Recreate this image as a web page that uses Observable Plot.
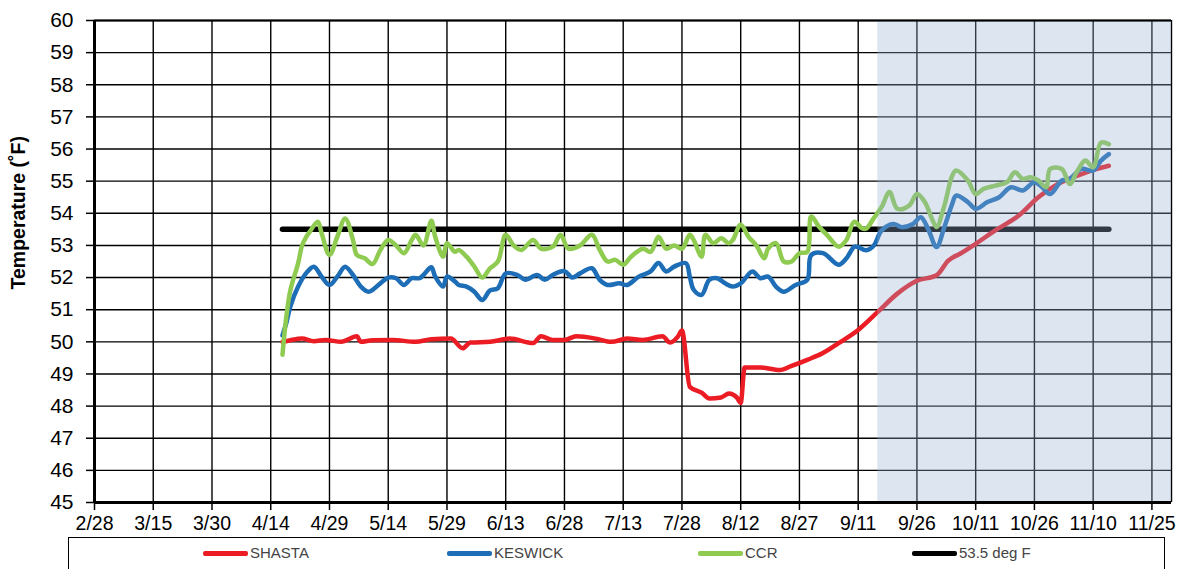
<!DOCTYPE html>
<html><head><meta charset="utf-8">
<script src="https://cdn.jsdelivr.net/npm/d3@7"></script>
<script src="https://cdn.jsdelivr.net/npm/@observablehq/plot@0.6"></script>
<style>
body{margin:0;background:#fff;font-family:"Liberation Sans",Arial,sans-serif;}
#wrap{position:relative;width:1182px;height:569px;overflow:hidden;background:#fff;}
#chart{position:absolute;left:0;top:0;}
#legendBox{position:absolute;left:68px;top:537px;width:1097px;height:45px;border:1.5px solid #000;box-sizing:border-box;background:#fff;}
.sw{position:absolute;height:5px;border-radius:2px;}
.lt{position:absolute;font-size:15px;line-height:18px;color:#444;white-space:nowrap;}
</style></head>
<body><div id="wrap"><div id="chart"></div><div id="legendBox"></div></div>
<script>
const YEAR = 2021;
const parse = s => { const [m, d] = s.split("/").map(Number); return new Date(Date.UTC(YEAR, m - 1, d)); };

const tickLabels = ["2/28","3/15","3/30","4/14","4/29","5/14","5/29","6/13","6/28","7/13","7/28","8/12","8/27","9/11","9/26","10/11","10/26","11/10","11/25"];
const yTicks = [45,46,47,48,49,50,51,52,53,54,55,56,57,58,59,60];
const xStart = "2/28", xEnd = "11/30";
const shadeStart = "9/16";

const seriesNames = ["SHASTA","KESWICK","CCR","53.5 deg F"];
const seriesColors = ["#ec1c24","#1d6db7","#8fcb50","#000000"];

const thresholdDates = ["4/17","11/14"];
const thresholdTemps = [53.5, 53.5];

const shastaDates = ["4/17","4/19","4/22","4/25","4/28","5/2","5/6","5/7","5/10","5/15",
  "5/21","5/25","5/30","6/2","6/4","6/9","6/14","6/20","6/22","6/25",
  "6/28","7/1","7/6","7/10","7/14","7/18","7/23","7/25","7/27","7/28",
  "7/30","8/2","8/4","8/7","8/9","8/11","8/12","8/13","8/17","8/22",
  "8/25","8/29","9/2","9/6","9/11","9/16","9/21","9/26","10/1","10/4",
  "10/7","10/11","10/16","10/22","10/27","11/1","11/6","11/11","11/14"];
const shastaTemps = [50.0,50.05,50.1,50.02,50.06,50.0,50.17,50.0,50.05,50.06,
  50.0,50.08,50.1,49.8,49.98,50.0,50.1,49.96,50.17,50.06,
  50.06,50.17,50.1,50.0,50.1,50.06,50.17,49.98,50.17,50.35,
  48.6,48.42,48.24,48.27,48.39,48.27,48.1,49.2,49.2,49.12,
  49.25,49.44,49.65,49.96,50.37,50.93,51.5,51.9,52.07,52.53,
  52.74,53.05,53.47,53.93,54.5,54.91,55.17,55.38,55.48];

const keswickDates = ["4/17","4/18","4/19","4/21","4/23","4/25","4/27","4/29","5/1","5/3",
  "5/5","5/7","5/9","5/12","5/14","5/16","5/18","5/20","5/22","5/23",
  "5/25","5/26","5/28","5/29","5/31","6/1","6/3","6/5","6/7","6/9",
  "6/11","6/13","6/16","6/18","6/21","6/23","6/25","6/28","6/30","7/2",
  "7/5","7/7","7/9","7/12","7/14","7/17","7/20","7/22","7/24","7/26",
  "7/29","7/30","7/31","8/2","8/4","8/6","8/8","8/10","8/12","8/15",
  "8/17","8/19","8/21","8/23","8/26","8/29","8/30","9/2","9/6","9/8",
  "9/10","9/11","9/13","9/15","9/17","9/20","9/22","9/25","9/27","9/29",
  "10/1","10/3","10/5","10/6","10/9","10/11","10/14","10/17","10/20","10/23",
  "10/26","10/28","10/30","11/2","11/4","11/7","11/10","11/12","11/14"];
const keswickTemps = [50.2,50.6,51.1,51.72,52.13,52.34,52.03,51.77,52.03,52.34,
  52.08,51.72,51.56,51.82,52.0,51.98,51.77,51.98,51.98,52.08,
  52.32,52.03,51.72,52.03,51.88,51.77,51.72,51.56,51.3,51.6,
  51.67,52.13,52.08,51.93,52.08,51.93,52.08,52.2,52.0,52.13,
  52.29,51.93,51.77,51.82,51.77,52.03,52.19,52.45,52.19,52.34,
  52.45,52.03,51.62,51.46,51.93,51.98,51.82,51.72,51.82,52.19,
  51.98,52.03,51.72,51.56,51.77,51.93,52.7,52.76,52.4,52.6,
  52.96,52.95,52.85,53.0,53.47,53.67,53.57,53.67,53.88,53.47,
  52.95,53.57,54.29,54.55,54.35,54.14,54.35,54.5,54.81,54.71,
  54.97,54.81,54.6,55.02,55.07,55.38,55.33,55.64,55.84];

const ccrDates = ["4/17","4/18","4/19","4/21","4/22","4/23","4/24","4/26","4/27","4/29",
  "5/1","5/3","5/5","5/6","5/8","5/10","5/12","5/14","5/16","5/18",
  "5/20","5/21","5/23","5/25","5/26","5/28","5/29","5/31","6/1","6/3",
  "6/5","6/7","6/9","6/11","6/13","6/15","6/17","6/20","6/22","6/25",
  "6/27","6/29","7/2","7/5","7/7","7/9","7/11","7/13","7/15","7/18",
  "7/20","7/22","7/24","7/26","7/28","7/30","7/31","8/2","8/3","8/5",
  "8/7","8/9","8/10","8/12","8/14","8/16","8/18","8/19","8/21","8/23",
  "8/25","8/27","8/29","8/30","9/1","9/3","9/6","9/8","9/10","9/12",
  "9/13","9/15","9/17","9/19","9/21","9/24","9/26","9/28","9/30","10/1",
  "10/3","10/5","10/6","10/9","10/11","10/13","10/16","10/19","10/21","10/23",
  "10/25","10/27","10/29","10/30","11/2","11/4","11/6","11/8","11/10","11/12",
  "11/14"];
const ccrTemps = [49.6,50.8,51.6,52.45,53.0,53.25,53.43,53.74,53.38,52.7,
  53.27,53.84,53.17,52.7,52.6,52.42,52.86,53.17,53.0,52.76,
  53.17,53.33,53.0,53.77,53.27,52.65,53.07,52.8,52.86,52.65,
  52.34,52.0,52.29,52.5,53.33,53.0,52.86,53.17,52.9,52.96,
  53.33,52.9,53.0,53.33,52.86,52.5,52.55,52.4,52.65,52.9,
  52.8,53.27,52.9,53.0,52.9,53.33,53.17,52.65,53.33,53.07,
  53.22,53.07,53.17,53.64,53.27,53.0,52.6,52.9,53.07,52.5,
  52.5,52.76,52.8,53.9,53.58,53.33,52.96,53.17,53.74,53.53,
  53.52,53.85,54.2,54.66,54.14,54.24,54.6,54.35,53.78,53.57,
  54.24,55.17,55.33,55.02,54.6,54.76,54.86,54.97,55.28,55.07,
  55.12,55.02,54.81,55.38,55.38,54.91,55.33,55.64,55.43,56.2,
  56.15];

const rows = (dates, temps) => dates.map((s, i) => ({date: parse(s), t: temps[i]}));
const shasta = rows(shastaDates, shastaTemps);
const keswick = rows(keswickDates, keswickTemps);
const ccr = rows(ccrDates, ccrTemps);
const threshold = rows(thresholdDates, thresholdTemps);
const xTicks = tickLabels.map(parse);
const xDomain = [parse(xStart), parse(xEnd)];

const plot = Plot.plot({
  width: 1182, height: 537,
  marginLeft: 94, marginRight: 11, marginTop: 20, marginBottom: 35,
  style: {fontFamily: "'Liberation Sans', Arial, sans-serif", background: "#fff", color: "#000"},
  x: {type: "utc", domain: xDomain},
  y: {domain: [45, 60]},
  marks: [
    Plot.ruleY(yTicks, {stroke: "#000", strokeWidth: 1.4}),
    Plot.ruleX(xTicks.concat([xDomain[1]]), {stroke: "#000", strokeWidth: 1.4}),
    Plot.line(threshold, {x: "date", y: "t", stroke: seriesColors[3], strokeWidth: 5.5, strokeLinecap: "round"}),
    Plot.line(shasta, {x: "date", y: "t", stroke: seriesColors[0], strokeWidth: 4.5, curve: "monotone-x", strokeLinejoin: "round"}),
    Plot.line(keswick, {x: "date", y: "t", stroke: seriesColors[1], strokeWidth: 4.5, curve: "catmull-rom", strokeLinejoin: "round"}),
    Plot.line(ccr, {x: "date", y: "t", stroke: seriesColors[2], strokeWidth: 4.5, curve: "catmull-rom", strokeLinejoin: "round"}),
    Plot.rect([{a: parse(shadeStart), b: xDomain[1]}], {x1: "a", x2: "b", fill: "rgb(150,175,210)", fillOpacity: 0.33}),
    Plot.ruleX([xDomain[0]], {stroke: "#000", strokeWidth: 3}),
    Plot.ruleY([45], {stroke: "#000", strokeWidth: 3}),
    Plot.ruleY([60], {stroke: "#000", strokeWidth: 2}),
    Plot.axisX({ticks: xTicks, tickFormat: (d, i) => tickLabels[i], tickSize: 8, tickPadding: 6, fontSize: 19.5, label: null, stroke: "#000", strokeWidth: 1.5}),
    Plot.axisY({ticks: yTicks, tickSize: 8, tickPadding: 13, fontSize: 21, label: null, stroke: "#000", strokeWidth: 1.5}),
    Plot.text(["Temperature (˚F)"], {text: d => d, frameAnchor: "left", dx: -76, dy: 28, rotate: -90, fontWeight: "bold", fontSize: 19.5, fill: "#000"})
  ]
});
document.getElementById("chart").appendChild(plot);

// legend
const wrap = document.getElementById("wrap");
const swLeft = [203, 447, 698, 912];
seriesNames.forEach((name, i) => {
  const sw = document.createElement("div");
  sw.className = "sw";
  sw.style.left = swLeft[i] + "px";
  sw.style.top = "551px";
  sw.style.width = "45px";
  sw.style.background = seriesColors[i];
  wrap.appendChild(sw);
  const lt = document.createElement("div");
  lt.className = "lt";
  lt.style.left = (swLeft[i] + 47) + "px";
  lt.style.top = "544px";
  lt.textContent = name;
  wrap.appendChild(lt);
});
</script>
</body></html>
